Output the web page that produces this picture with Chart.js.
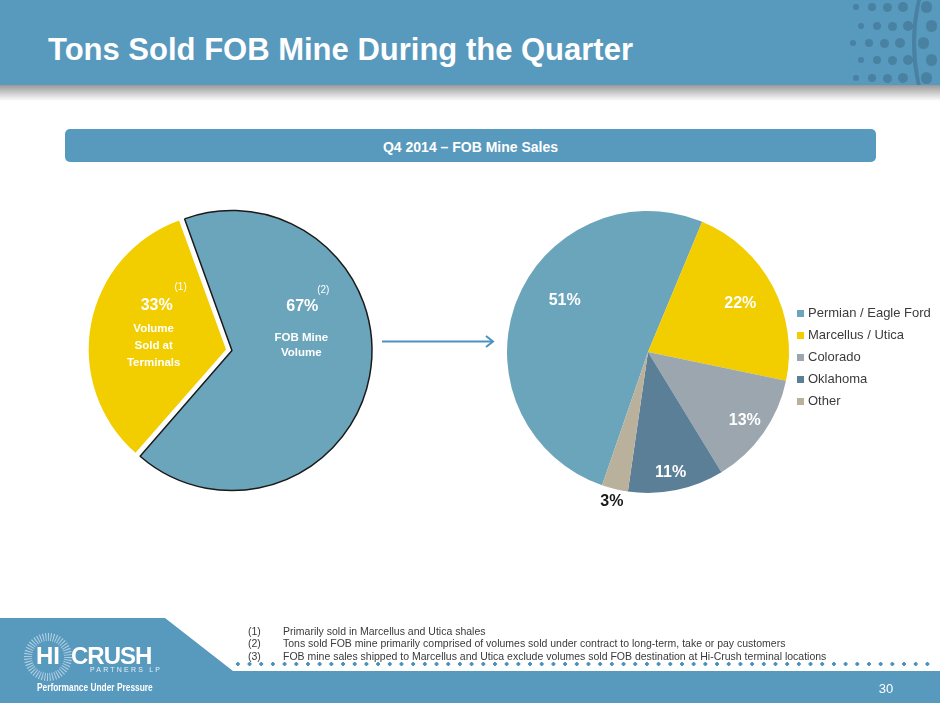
<!DOCTYPE html>
<html>
<head>
<meta charset="utf-8">
<script src="https://cdn.jsdelivr.net/npm/chart.js@4.4.1/dist/chart.umd.min.js"></script>
<style>
  body { margin: 0; background: #fff; }
  #slide { position: relative; width: 940px; height: 705px; overflow: hidden; background: #fff; font-family: "Liberation Sans", Arial, sans-serif; }
  .abs { position: absolute; }
  #header { left: 0; top: 0; width: 940px; height: 85px; background: #5899be; overflow: hidden; }
  #shadow { left: 0; top: 85px; width: 940px; height: 16px; background: linear-gradient(rgba(0,0,0,0.40), rgba(0,0,0,0)); }
  #title { left: 48px; top: 32px; color: #fff; font-weight: bold; font-size: 31px; line-height: 36px; white-space: nowrap; }
  #band { left: 65px; top: 129px; width: 811px; height: 33px; background: #5899be; border-radius: 5px; color: #fff; font-weight: bold; font-size: 14px; line-height: 36px; text-align: center; }
  #legend { left: 797px; top: 302px; font-size: 13px; color: #3b3b3b; }
  #legend div { height: 22px; line-height: 22px; white-space: nowrap; }
  #legend span { display: inline-block; width: 7px; height: 7px; margin-right: 4px; vertical-align: 0px; }
  #footer { left: 0; top: 618px; width: 940px; height: 85px; background: #5899be; clip-path: polygon(0 0, 165px 0, 233px 53px, 940px 53px, 940px 85px, 0 85px); }
  #dots { left: 232px; top: 662px; width: 704px; height: 4px; background: radial-gradient(circle, #4a93bd 1.7px, rgba(0,0,0,0) 2.1px); background-size: 11.7px 4px; }
  .note { font-size: 10.5px; color: #3a3a3a; line-height: 12.5px; white-space: nowrap; }
  #page { left: 870px; top: 681px; width: 32px; text-align: center; color: #fff; font-size: 13px; line-height: 16px; }
  .logo { color: #fff; white-space: nowrap; font-weight: bold; }
</style>
</head>
<body>
<div id="slide">
  <div id="header" class="abs"></div>
  <div id="shadow" class="abs"></div>
  <div id="title" class="abs">Tons Sold FOB Mine During the Quarter</div>
  <div id="band" class="abs">Q4 2014 – FOB Mine Sales</div>

  <canvas id="splitPie" class="abs" width="320" height="320" style="left:69px;top:190px;width:320px;height:320px;"></canvas>
  <canvas id="regionPie" class="abs" width="320" height="320" style="left:488px;top:192px;width:320px;height:320px;"></canvas>
  <div id="legend" class="abs"></div>

  <svg class="abs" style="left:0;top:0" width="940" height="705">
    <line x1="382" y1="341.5" x2="492" y2="341.5" stroke="#4b93bf" stroke-width="2"/>
    <polyline points="486,336 493,341.5 486,347" fill="none" stroke="#4b93bf" stroke-width="2"/>
  </svg>

  <div id="footer" class="abs"></div>
  <div id="dots" class="abs"></div>
  <div class="abs note" style="left:248px;top:625px">(1)</div>
  <div class="abs note" style="left:283px;top:625px">Primarily sold in Marcellus and Utica shales</div>
  <div class="abs note" style="left:248px;top:637px">(2)</div>
  <div class="abs note" style="left:283px;top:637px">Tons sold FOB mine primarily comprised of volumes sold under contract to long-term, take or pay customers</div>
  <div class="abs note" style="left:248px;top:650px">(3)</div>
  <div class="abs note" style="left:283px;top:650px">FOB mine sales shipped to Marcellus and Utica exclude volumes sold FOB destination at Hi-Crush terminal locations</div>
  <div id="page" class="abs">30</div>

  <svg class="abs" style="left:0;top:610px" width="120" height="95">
    <circle cx="48" cy="47" r="20" fill="none" stroke="rgba(255,255,255,0.55)" stroke-width="8" stroke-dasharray="1 1.6"/>
  </svg>
  <div class="abs logo" style="left:36px;top:643px;font-size:24px;line-height:26px;">HI</div>
  <div class="abs logo" style="left:71px;top:643px;font-size:24px;line-height:26px;letter-spacing:-1px;">CRUSH</div>
  <div class="abs logo" style="left:90px;top:666px;font-size:7px;line-height:8px;font-weight:normal;letter-spacing:2.2px;opacity:0.85;">PARTNERS LP</div>
  <div class="abs logo" style="left:37px;top:680px;font-size:11px;line-height:14px;transform:scaleX(0.76);transform-origin:0 0;">Performance Under Pressure</div>
</div>

<script>
// valeurs
const splitLabels = [['FOB Mine', 'Volume'], ['Volume', 'Sold at', 'Terminals']];
const splitValues = [67, 33];
const splitNotes = ['(2)', '(1)'];
const splitColors = ['#6ba5bb', '#f2cd00'];

const regionLabels = ['Permian / Eagle Ford', 'Marcellus / Utica', 'Colorado', 'Oklahoma', 'Other'];
const regionValues = [51, 22, 13, 11, 3];
const regionColors = ['#6ba5bb', '#f2cd00', '#9ba6ae', '#5b7f96', '#b9b19b'];

const FONT = '"Liberation Sans", Arial, sans-serif';

// décor : points dans le coin haut droit
const header = document.getElementById('header');
const rowsY = [7, 26, 43, 60, 78];
const rowsX = [856, 861, 853, 861, 856];
rowsY.forEach((y, r) => {
  for (let c = 0; c < 5; c++) {
    const size = 6.6 + c * 1.2;
    const dot = document.createElement('div');
    dot.style.cssText = 'position:absolute;border-radius:50%;background:rgba(62,110,140,0.55);'
      + 'width:' + size + 'px;height:' + size + 'px;left:' + (rowsX[r] + c * 15.7 + (c > 3 ? 8 : 0) - size / 2) + 'px;top:' + (y - size / 2) + 'px';
    header.appendChild(dot);
  }
});
const arcBand = document.createElement('div');
arcBand.style.cssText = 'position:absolute;left:912px;top:-143px;width:372px;height:372px;border-radius:50%;border-left:4px solid rgba(62,110,140,0.55);';
header.appendChild(arcBand);

// texte des parts, posé à partir des arcs
const sliceText = {
  id: 'sliceText',
  afterDatasetsDraw(chart, args, opts) {
    const ctx = chart.ctx;
    const values = chart.data.datasets[0].data;
    chart.getDatasetMeta(0).data.forEach((arc, i) => {
      const p = opts.place[i];
      const a = (arc.startAngle + arc.endAngle) / 2 + p.turn * Math.PI / 180;
      const x = arc.x + Math.cos(a) * arc.outerRadius * p.dist;
      const y = arc.y + Math.sin(a) * arc.outerRadius * p.dist;
      ctx.save();
      ctx.textAlign = 'center';
      ctx.textBaseline = 'middle';
      ctx.fillStyle = p.color || '#fff';
      ctx.font = 'bold 16px ' + FONT;
      ctx.fillText(values[i] + '%', x, y);
      if (opts.notes) {
        ctx.font = '10px ' + FONT;
        ctx.fillText(opts.notes[i], x + p.noteX, y + p.noteY);
      }
      if (opts.lines) {
        ctx.font = 'bold 11.5px ' + FONT;
        chart.data.labels[i].forEach((t, k) => ctx.fillText(t, x + p.lineX, y + p.first + k * p.step));
      }
      ctx.restore();
    });
  }
};

// premier graphique : FOB mine / terminaux
new Chart(document.getElementById('splitPie'), {
  type: 'pie',
  data: {
    labels: splitLabels,
    datasets: [{
      data: splitValues,
      backgroundColor: splitColors,
      borderColor: ['#1a1a1a', '#ffffff'],
      borderWidth: [1.5, 0],
      offset: 12
    }]
  },
  options: {
    responsive: false,
    animation: false,
    events: [],
    rotation: -20,
    radius: 137,
    layout: { padding: 0 },
    plugins: {
      legend: { display: false },
      tooltip: { enabled: false },
      sliceText: {
        notes: splitNotes,
        lines: true,
        place: [
          { turn: -41, dist: 0.62, noteX: 21, noteY: -17, lineX: -1, first: 30.5, step: 15 },
          { turn: 21, dist: 0.62, noteX: 24, noteY: -18, lineX: -3, first: 23, step: 17 }
        ]
      }
    }
  },
  plugins: [sliceText]
});

// deuxième graphique : ventes FOB mine par région
const regionChart = new Chart(document.getElementById('regionPie'), {
  type: 'pie',
  data: {
    labels: regionLabels,
    datasets: [{
      data: regionValues,
      backgroundColor: regionColors,
      borderWidth: 0
    }]
  },
  options: {
    responsive: false,
    animation: false,
    events: [],
    rotation: 199,
    radius: 141,
    layout: { padding: 0 },
    plugins: {
      legend: { display: false },
      tooltip: { enabled: false },
      sliceText: {
        place: [
          { turn: 11, dist: 0.695 },
          { turn: 0, dist: 0.74 },
          { turn: 0, dist: 0.84 },
          { turn: 1, dist: 0.87 },
          { turn: 0, dist: 1.09, color: '#1a1a1a' }
        ]
      }
    }
  },
  plugins: [sliceText]
});

// légende HTML construite à partir du graphique
const legendBox = document.getElementById('legend');
regionChart.options.plugins.legend.labels.generateLabels(regionChart).forEach(item => {
  const row = document.createElement('div');
  const box = document.createElement('span');
  box.style.background = item.fillStyle;
  row.appendChild(box);
  row.appendChild(document.createTextNode(item.text));
  legendBox.appendChild(row);
});
</script>
</body>
</html>
